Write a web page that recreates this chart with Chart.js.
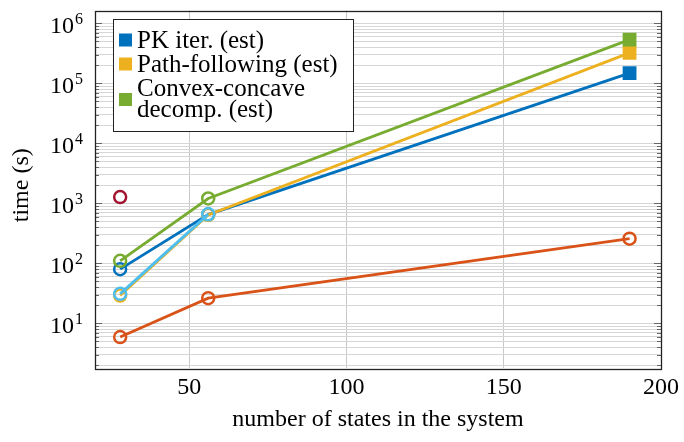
<!DOCTYPE html>
<html>
<head>
<meta charset="utf-8">
<script src="https://cdn.jsdelivr.net/npm/chart.js@4"></script>
<style>
html, body { margin: 0; padding: 0; background: #fff; }
canvas { display: block; }
</style>
</head>
<body>
<canvas id="c" width="684" height="442"></canvas>
<script>
// values
const states = [28, 56, 190];
const pkIter = [80, 650, 148600];
const pathFollowing = [29, 640, 322000];
const convexConcave = [110, 1205, 537000];
const orangeSeries = [5.9, 26.2, 258];
const lightBlueSeries = [31, 655];
const crimsonSeries = [1270];

const xTicks = [50, 100, 150, 200];
const yDecades = [1, 2, 3, 4, 5, 6];
const legendLabels = [['PK iter. (est)'], ['Path-following (est)'], ['Convex-concave', 'decomp. (est)']];

const BLUE = '#0072BD', ORANGE = '#D95319', YELLOW = '#EDB120';
const GREEN = '#77AC30', LIGHTBLUE = '#4DBEEE', CRIMSON = '#A2142F';
const SERIF = '"Liberation Serif", "Times New Roman", serif';

const pts = arr => arr.map((y, i) => ({ x: states[i], y }));

function estSeries(label, values, color, order) {
    return {
        label,
        data: pts(values),
        borderColor: color,
        backgroundColor: color,
        borderWidth: 2.8,
        showLine: true,
        pointStyle: ['circle', 'circle', 'rect'],
        pointRadius: [6, 6, 8],
        pointBorderWidth: 2.5,
        pointBorderColor: color,
        pointBackgroundColor: ['rgba(0,0,0,0)', 'rgba(0,0,0,0)', color],
        order
    };
}

function plainSeries(values, color, order, line) {
    return {
        label: '',
        data: pts(values),
        borderColor: color,
        borderWidth: 2.8,
        showLine: line,
        pointStyle: 'circle',
        pointRadius: 6,
        pointBorderWidth: 2.5,
        pointBorderColor: color,
        pointBackgroundColor: 'rgba(0,0,0,0)',
        order
    };
}

const datasets = [
    estSeries(legendLabels[0].join(' '), pkIter, BLUE, 4),
    estSeries(legendLabels[1].join(' '), pathFollowing, YELLOW, 3),
    estSeries(legendLabels[2].join(' '), convexConcave, GREEN, 2),
    plainSeries(orangeSeries, ORANGE, 5, true),
    plainSeries(lightBlueSeries, LIGHTBLUE, 1, true),
    plainSeries(crimsonSeries, CRIMSON, 0, false)
];

// inner ticks, frame, legend, superscript labels and axis titles
const decorPlugin = {
    id: 'decor',
    beforeDatasetsDraw(chart) {
        const { ctx, chartArea: a } = chart;
        const y = chart.scales.y;
        ctx.save();
        ctx.strokeStyle = '#666';
        ctx.lineWidth = 1;
        y.ticks.forEach(t => {
            const py = Math.round(y.getPixelForValue(t.value)) + 0.5;
            const len = t.major ? 7 : 4;
            ctx.beginPath();
            ctx.moveTo(a.left, py); ctx.lineTo(a.left + len, py);
            ctx.moveTo(a.right, py); ctx.lineTo(a.right - len, py);
            ctx.stroke();
        });
        ctx.restore();
    },
    afterDatasetsDraw(chart) {
        const { ctx, chartArea: a } = chart;
        const y = chart.scales.y;
        ctx.save();
        // frame
        ctx.strokeStyle = '#222';
        ctx.lineWidth = 1.3;
        ctx.strokeRect(Math.round(a.left) + 0.5, Math.round(a.top) + 0.5,
            Math.round(a.right - a.left), Math.round(a.bottom - a.top));

        // legend
        const lx = 113.5, ly = 19.5, lw = 240, lh = 112;
        ctx.fillStyle = '#fff';
        ctx.fillRect(lx, ly, lw, lh);
        ctx.strokeStyle = '#222';
        ctx.lineWidth = 1;
        ctx.strokeRect(lx, ly, lw, lh);
        const rows = [[40], [64], [88, 109]];
        ctx.font = '25px ' + SERIF;
        ctx.textBaseline = 'middle';
        ctx.textAlign = 'left';
        legendLabels.forEach((lines, i) => {
            const ys = rows[i];
            const cy = (ys[0] + ys[ys.length - 1]) / 2 + (lines.length > 1 ? 1 : 0);
            ctx.fillStyle = datasets[i].borderColor;
            ctx.fillRect(119, cy - 6.5, 13, 13);
            ctx.fillStyle = '#000';
            lines.forEach((txt, j) => ctx.fillText(txt, 137, ys[j] + 1));
        });

        // y tick labels 10^k
        ctx.fillStyle = '#000';
        ctx.textBaseline = 'alphabetic';
        yDecades.forEach(k => {
            const py = y.getPixelForValue(Math.pow(10, k));
            ctx.font = '24px ' + SERIF;
            ctx.textAlign = 'right';
            ctx.fillText('10', 74, py + 10);
            ctx.font = '16px ' + SERIF;
            ctx.textAlign = 'left';
            ctx.fillText(String(k), 75, py + 1);
        });

        // axis titles
        ctx.font = '24px ' + SERIF;
        ctx.textAlign = 'center';
        ctx.textBaseline = 'middle';
        ctx.fillText('number of states in the system', (a.left + a.right) / 2, 420);
        ctx.translate(22, (a.top + a.bottom) / 2 - 4);
        ctx.rotate(-Math.PI / 2);
        ctx.fillText('time (s)', 0, 0);
        ctx.restore();
    }
};

new Chart(document.getElementById('c'), {
    type: 'scatter',
    data: { datasets },
    options: {
        responsive: false,
        animation: false,
        devicePixelRatio: 1,
        layout: { padding: { left: 0, right: 20, top: 8, bottom: 0 } },
        plugins: { legend: { display: false }, tooltip: { enabled: false } },
        scales: {
            x: {
                type: 'linear',
                min: 20,
                max: 200,
                afterBuildTicks: s => { s.ticks = xTicks.map(v => ({ value: v })); },
                afterFit: s => { s.height = 74; },
                grid: { color: '#c8c8c8', drawTicks: false },
                border: { display: false },
                ticks: {
                    color: '#000',
                    padding: 5,
                    font: { family: SERIF, size: 24 },
                    maxRotation: 0
                }
            },
            y: {
                type: 'logarithmic',
                min: 1.8,
                max: 1.64e6,
                afterBuildTicks: s => {
                    const t = [];
                    for (let k = 0; k <= 6; k++) {
                        for (let m = 1; m <= 9; m++) {
                            const v = m * Math.pow(10, k);
                            if (v >= s.min && v <= s.max) t.push({ value: v, major: m === 1 });
                        }
                    }
                    s.ticks = t;
                },
                afterFit: s => { s.width = 95; },
                grid: { color: '#d6d6d6', drawTicks: false },
                border: { display: false },
                ticks: { display: false }
            }
        }
    },
    plugins: [decorPlugin]
});
</script>
</body>
</html>
